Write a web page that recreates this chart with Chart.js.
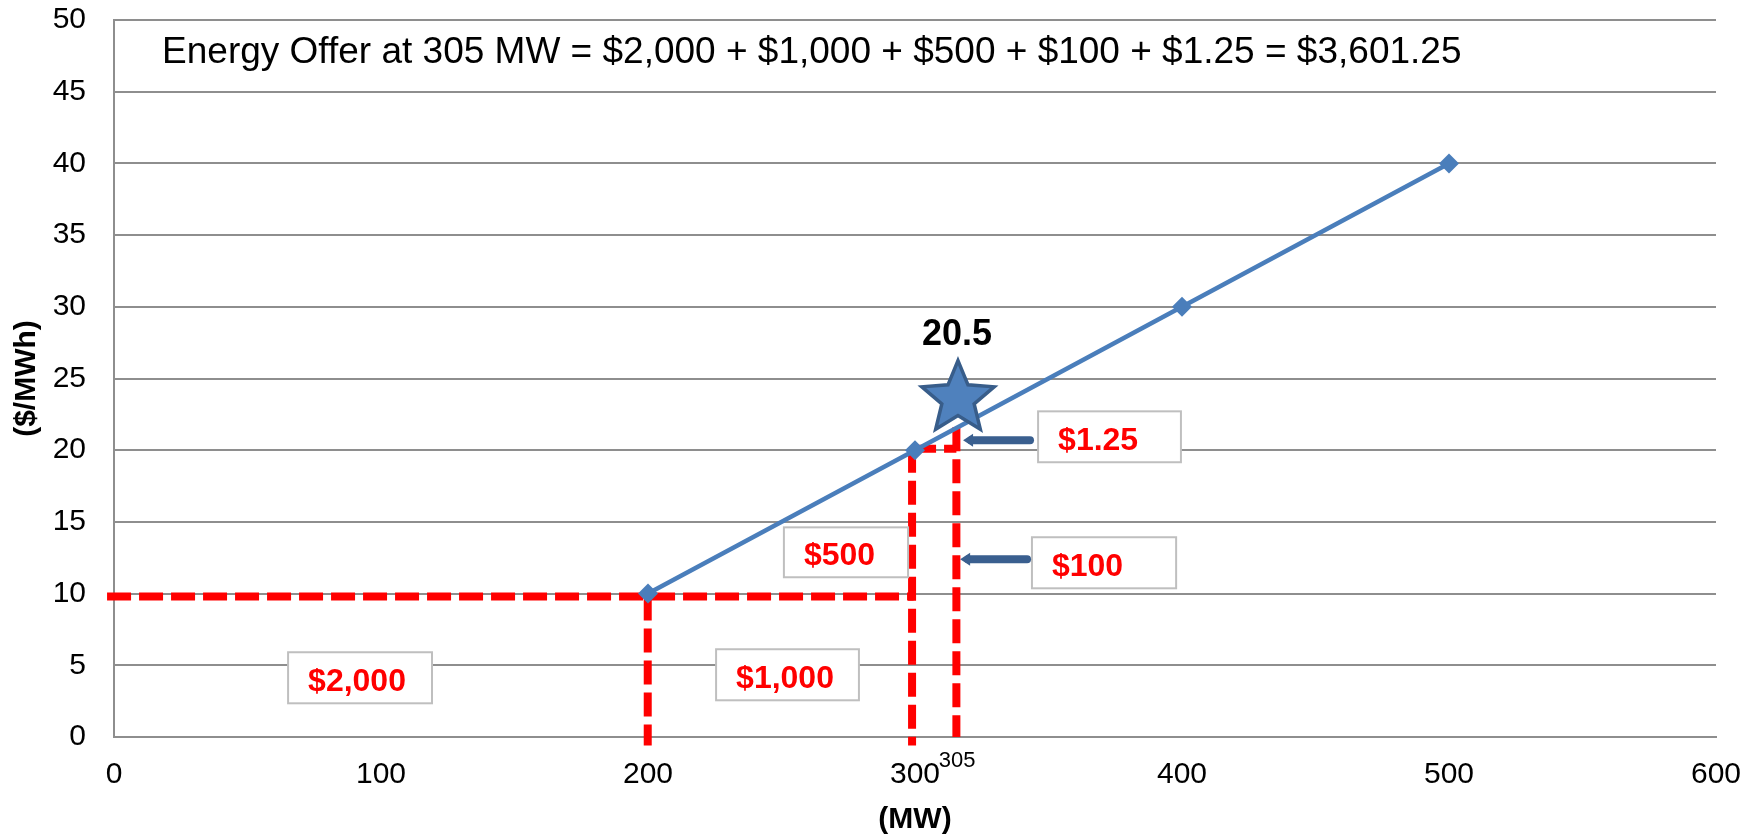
<!DOCTYPE html>
<html>
<head>
<meta charset="utf-8">
<script src="https://cdn.jsdelivr.net/npm/chart.js@4.4.1/dist/chart.umd.min.js"></script>
<style>
html,body{margin:0;padding:0;background:#fff;}
#wrap{width:1764px;height:839px;position:relative;}
</style>
</head>
<body>
<div id="wrap"><canvas id="c"></canvas></div>
<script>
// ---- data ----
const offerMW    = [200, 300, 400, 500];
const offerPrice = [10, 20, 30, 40];

const xTickValues = [0, 100, 200, 300, 400, 500, 600];
const yTickValues = [0, 5, 10, 15, 20, 25, 30, 35, 40, 45, 50];

// red dashed guide segments (MW, $/MWh)
const guideBaseX   = [-2.6, 299.5];  const guideBaseY   = [9.8, 9.8];
const guide200X    = [199.9, 199.9]; const guide200Y    = [9.8, -0.6];
const guide300X    = [298.9, 298.9]; const guide300Y    = [20.1, -0.6];
const guideTopX    = [298.9, 315.5]; const guideTopY    = [20.1, 20.1];
const guide305X    = [315.5, 315.5]; const guide305Y    = [21.6, 0];

// text boxes
const boxLabels = ['$2,000', '$1,000', '$500', '$100', '$1.25'];
const boxX1     = [65.2, 225.5, 250.9, 343.8, 346.1];
const boxX2     = [119.1, 279.0, 297.4, 397.8, 399.6];
const boxTop    = [5.91, 6.12, 14.62, 13.93, 22.71];
const boxBottom = [2.35, 2.56, 11.14, 10.37, 19.16];

// arrows (tail -> tip, at price level)
const arrowTail = [343.1, 344.2];
const arrowTip  = [316.9, 318.0];
const arrowY    = [12.39, 20.69];

// star marker and its label
const starMW = 316.1, starPrice = 23.6, starLabel = '20.5', starLabelMW = 315.7, starLabelPrice = 28.0;

const titleText = 'Energy Offer at 305 MW = $2,000 + $1,000 + $500 + $100 + $1.25 = $3,601.25';
const titleMW = 18, titlePrice = 47.7;
const mark305 = '305', mark305MW = 315.8, mark305Price = -1.69;

// ---- chart ----
const FONT = '"Liberation Sans", Arial, Helvetica, sans-serif';
Chart.defaults.font.family = FONT;
Chart.defaults.color = '#000';

function pts(xs, ys){ return xs.map((v,i)=>({x:v, y:ys[i]})); }

const RED = '#ff0000';
function guide(xs, ys){
  return {
    data: pts(xs, ys), borderColor: RED, borderWidth: 8, borderDash: [24, 8],
    borderCapStyle: 'butt', pointRadius: 0, showLine: true, clip: false, order: 1,
    fill: false, tension: 0
  };
}

function drawStar(ctx, cx, cy, R, r){
  ctx.beginPath();
  for (let i = 0; i < 10; i++){
    const rad = (i % 2 === 0) ? R : r;
    const a = -Math.PI/2 + i * Math.PI/5;
    const X = cx + rad*Math.cos(a), Y = cy + rad*Math.sin(a);
    if (i===0) ctx.moveTo(X,Y); else ctx.lineTo(X,Y);
  }
  ctx.closePath();
}

const annot = {
  id: 'annot',
  afterDatasetsDraw(chart){
    const {ctx, scales:{x, y}} = chart;
    const px = v => x.getPixelForValue(v), py = v => y.getPixelForValue(v);
    ctx.save();
    // title text
    ctx.fillStyle = '#000';
    ctx.font = '37px ' + FONT;
    ctx.textAlign = 'left'; ctx.textBaseline = 'middle';
    ctx.fillText(titleText, px(titleMW), py(titlePrice));

    // boxes
    for (let i = 0; i < boxLabels.length; i++){
      const l = px(boxX1[i]), r = px(boxX2[i]), t = py(boxTop[i]), b = py(boxBottom[i]);
      ctx.fillStyle = '#fff';
      ctx.fillRect(l, t, r-l, b-t);
      ctx.strokeStyle = '#bfbfbf'; ctx.lineWidth = 2;
      ctx.strokeRect(l, t, r-l, b-t);
      ctx.fillStyle = RED;
      ctx.font = 'bold 32px ' + FONT;
      ctx.textAlign = 'left'; ctx.textBaseline = 'middle';
      ctx.fillText(boxLabels[i], l + 20, (t+b)/2 + 4);
    }

    // arrows
    for (let i = 0; i < arrowTail.length; i++){
      const tail = px(arrowTail[i]), tip = px(arrowTip[i]), ay = py(arrowY[i]);
      ctx.strokeStyle = '#3a5f8f'; ctx.fillStyle = '#3a5f8f';
      ctx.lineWidth = 8; ctx.lineCap = 'round';
      ctx.beginPath(); ctx.moveTo(tail - 3, ay); ctx.lineTo(tip + 8, ay); ctx.stroke();
      ctx.beginPath(); ctx.moveTo(tip, ay); ctx.lineTo(tip + 10, ay - 6.5); ctx.lineTo(tip + 10, ay + 6.5);
      ctx.closePath(); ctx.fill();
    }

    // star
    const sx = px(starMW), sy = py(starPrice);
    drawStar(ctx, sx, sy, 38, 17);
    ctx.fillStyle = '#4f81bd'; ctx.fill();
    ctx.strokeStyle = '#385d8a'; ctx.lineWidth = 3.5; ctx.lineJoin = 'miter'; ctx.miterLimit = 10; ctx.stroke();

    ctx.fillStyle = '#000';
    ctx.font = 'bold 36px ' + FONT;
    ctx.textAlign = 'center'; ctx.textBaseline = 'middle';
    ctx.fillText(starLabel, px(starLabelMW), py(starLabelPrice));

    // small 305 mark
    ctx.font = '22px ' + FONT;
    ctx.fillText(mark305, px(mark305MW), py(mark305Price));
    ctx.restore();
  }
};

const GRID = '#8e8e8e';
new Chart(document.getElementById('c'), {
  type: 'scatter',
  data: {
    datasets: [
      {
        data: pts(offerMW, offerPrice), showLine: true, borderColor: '#4a7ebb', borderWidth: 4.5,
        backgroundColor: '#4a7ebb', pointBackgroundColor: '#4a7ebb', pointBorderColor: '#4a7ebb',
        pointStyle: 'rectRot', pointRadius: 10, pointBorderWidth: 0, order: 0, tension: 0, fill: false
      },
      guide(guideBaseX, guideBaseY),
      guide(guide200X, guide200Y),
      guide(guide300X, guide300Y),
      guide(guideTopX, guideTopY),
      guide(guide305X, guide305Y)
    ]
  },
  options: {
    responsive: true, maintainAspectRatio: false, animation: false,
    layout: { padding: { top: 20, right: 48, left: 0, bottom: 0 } },
    plugins: { legend: { display: false }, tooltip: { enabled: false } },
    scales: {
      x: {
        type: 'linear', min: 0, max: 600,
        afterBuildTicks: s => { s.ticks = xTickValues.map(v => ({value: v})); },
        afterFit: s => { s.height = 102; s.paddingLeft = 10; s.paddingRight = 26; },
        grid: { display: false, drawTicks: false },
        border: { display: true, color: GRID, width: 2 },
        ticks: { font: { size: 30 }, padding: 20, color: '#000', maxRotation: 0 },
        title: { display: true, text: '(MW)', font: { size: 30, weight: 'bold' }, padding: { top: 0, bottom: 1 }, color: '#000' }
      },
      y: {
        type: 'linear', min: 0, max: 50,
        afterBuildTicks: s => { s.ticks = yTickValues.map(v => ({value: v})); },
        afterFit: s => { s.width = 114; s.paddingTop = 18; s.paddingBottom = 0; },
        grid: { display: true, drawTicks: false, color: GRID, lineWidth: 2 },
        border: { display: true, color: GRID, width: 2 },
        ticks: { font: { size: 30 }, padding: 28, color: '#000' },
        title: { display: true, text: '($/MWh)', font: { size: 30, weight: 'bold' }, padding: { top: 9, bottom: 0 }, color: '#000' }
      }
    }
  },
  plugins: [annot]
});
</script>
</body>
</html>
